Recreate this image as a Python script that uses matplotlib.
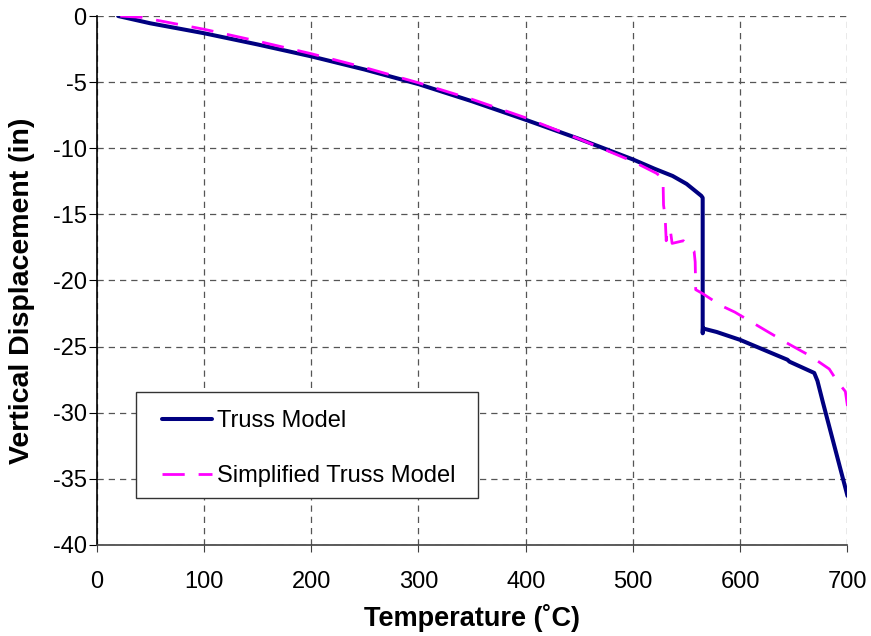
import matplotlib.pyplot as plt
from matplotlib.patches import Rectangle
import numpy as np

# Truss model
truss_T = [20, 50, 100, 150, 200, 250, 300, 350, 400, 450, 500, 520, 537, 550,
           563.7, 565, 565, 565.3, 566, 578, 600, 644, 646, 669, 672, 677, 700]
truss_d = [0, -0.55, -1.3, -2.15, -3.05, -4.05, -5.15, -6.45, -7.85, -9.3, -10.85,
           -11.55, -12.1, -12.7, -13.6, -13.75, -24.0, -23.6, -23.65, -23.9, -24.5,
           -26.0, -26.15, -27.0, -27.6, -29.2, -36.3]

# Simplified truss model
simp_T = [22, 42, 100, 150, 200, 250, 300, 350, 400, 450, 500, 522, 528, 528.5,
          530, 531, 532, 535, 536.5, 547, 557, 558, 558.5, 565, 582, 595, 624,
          645, 665, 683, 691, 698, 700]
simp_d = [0, -0.1, -1.0, -1.9, -2.85, -3.9, -5.05, -6.3, -7.7, -9.3, -11.0,
          -11.9, -12.3, -14.3, -15.2, -17.0, -16.1, -16.3, -17.2, -17.0, -17.8,
          -18.6, -20.7, -21.0, -21.9, -22.4, -23.8, -24.8, -25.7, -26.7, -27.7,
          -28.4, -29.5]

plt.rcParams['font.family'] = ['Liberation Sans', 'DejaVu Sans']
plt.rcParams['axes.unicode_minus'] = False

W, H = 871, 636
fig = plt.figure(figsize=(W / 100, H / 100), dpi=100)
ax = fig.add_axes([0.111, 0.1434, 0.862, 0.8314])

ax.plot(truss_T, truss_d, color='#000080', lw=2.9, label='Truss Model',
        solid_joinstyle='round', solid_capstyle='round', zorder=3)
ax.plot(simp_T, simp_d, color='#FF00FF', lw=2.0, dashes=(8, 5),
        label='Simplified Truss Model', zorder=4)

ax.set_xlim(0, 700)
ax.set_ylim(-40, 0)
ax.set_xticks(np.arange(0, 701, 100))
ax.set_yticks(np.arange(-40, 1, 5))
ax.tick_params(labelsize=17)
ax.tick_params(axis='x', length=5, pad=14, color='#404040')
ax.tick_params(axis='y', length=5.8, pad=1.5, color='black')
ax.grid(True, color='#555555', linestyle=(0, (5, 4)), lw=0.9)

ax.spines['top'].set_visible(False)
ax.spines['right'].set_visible(False)
ax.spines['left'].set_color('black')
ax.spines['left'].set_linewidth(1.2)
ax.spines['bottom'].set_color('#404040')
ax.spines['bottom'].set_linewidth(1.2)

ax.set_xlabel('Temperature (˚C)', fontsize=19.5, fontweight='bold', va='center')
ax.set_ylabel('Vertical Displacement (in)', fontsize=20.5, fontweight='bold', va='center')
ax.xaxis.set_label_coords(0.5, -0.1375)
ax.yaxis.set_label_coords(-0.0995, 0.48)

# legend frame drawn by hand, in pixel-derived figure coords
frame = Rectangle((135.7 / W, 1 - 498 / H), (478 - 135.7) / W, (498 - 392) / H,
                  transform=fig.transFigure, facecolor='white',
                  edgecolor='#333333', lw=1.0, zorder=5, clip_on=False)
ax.add_patch(frame)
leg = ax.legend(loc='center left', bbox_to_anchor=(161.7 / W, 1 - 448.5 / H),
                bbox_transform=fig.transFigure, fontsize=17, frameon=False,
                handlelength=2.13, handletextpad=0.2, labelspacing=1.4,
                borderpad=0, borderaxespad=0)
leg.set_zorder(6)

plt.savefig('out.png', dpi=100)
